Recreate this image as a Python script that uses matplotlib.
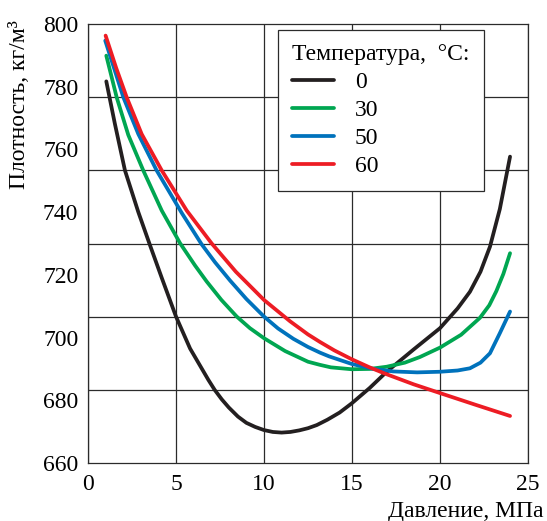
#!/usr/bin/env python3

import numpy as np
import matplotlib.pyplot as plt

# data (pressure in MPa, density in kg/m3)
p_0 = [1.04, 1.53, 2.10, 2.86, 3.52, 4.2, 5.0, 5.8, 6.84, 7.2, 7.6, 8.0, 8.52,
       9.0, 9.5, 10.0, 10.5, 11.0, 11.5, 12.0, 12.5, 13.0, 13.6, 14.3, 14.98,
       16.0, 16.97, 18.5, 20.0, 21.0, 21.7, 22.3, 22.84, 23.4, 23.98]
rho_0 = [781.7, 768.1, 753.3, 740.0, 729.5, 718.9, 706.7, 696.5, 686.5, 683.3,
         680.3, 677.7, 674.8, 672.8, 671.5, 670.5, 669.9, 669.7, 669.9, 670.4,
         671.1, 672.1, 673.8, 676.1, 679.0, 683.9, 689.1, 696.2, 703.0, 709.3,
         714.6, 721.0, 729.0, 741.0, 757.7]

p_30 = [1.04, 1.63, 2.29, 3.14, 4.19, 5.23, 6.08, 6.74, 7.58, 8.45, 9.2, 10.0,
        11.2, 12.5, 13.18, 13.8, 14.98, 16.0, 16.97, 18.0, 18.86, 20.0, 21.2,
        22.27, 22.8, 23.2, 23.6, 23.98]
rho_30 = [789.9, 776.6, 764.6, 753.3, 740.5, 730.1, 723.0, 717.9, 712.0, 706.7,
          703.0, 699.8, 695.7, 692.3, 691.3, 690.5, 689.9, 690.0, 690.7, 692.0,
          693.8, 696.8, 700.9, 706.3, 710.3, 714.8, 720.3, 726.9]

p_50 = [0.98, 2.01, 2.86, 3.9, 5.32, 6.45, 7.22, 8.07, 9.0, 10.0, 10.8, 11.67,
        12.5, 13.18, 13.7, 14.98, 16.2, 17.35, 18.7, 20.0, 21.0, 21.7, 22.3,
        22.84, 23.4, 23.98]
rho_50 = [794.7, 776.6, 764.9, 753.3, 739.8, 729.8, 724.0, 718.2, 712.3, 706.7,
          702.9, 699.6, 697.0, 695.2, 694.0, 691.6, 690.0, 689.2, 688.9, 689.1,
          689.5, 690.2, 692.0, 695.0, 701.4, 708.3]

p_60 = [1.0, 1.6, 2.2, 3.05, 4.19, 5.61, 7.03, 8.4, 10.0, 11.48, 12.5, 13.18,
        14.0, 14.98, 16.0, 16.97, 18.5, 20.0, 22.0, 23.98]
rho_60 = [796.3, 786.0, 776.6, 764.9, 753.3, 740.5, 730.0, 721.0, 712.0, 705.2,
          701.0, 698.6, 695.9, 693.1, 690.5, 688.3, 685.1, 682.3, 678.6, 675.0]

temps = ["0", "30", "50", "60"]
colors = ["#231f20", "#00a651", "#0072bc", "#ed1c24"]

x_ticks = [0, 5, 10, 15, 20, 25]
y_ticks = [660, 680, 700, 720, 740, 760, 780, 800]

plt.rcParams['font.family'] = ['Liberation Serif', 'DejaVu Serif']
plt.rcParams['font.size'] = 17

fig = plt.figure(figsize=(5.47, 5.21), dpi=100)
ax = fig.add_axes([88 / 547, 1 - 463 / 521, 440 / 547, 439 / 521])

series = [(p_0, rho_0), (p_30, rho_30), (p_50, rho_50), (p_60, rho_60)]
for (p, rho), t, c in zip(series, temps, colors):
  ax.plot(p, rho, color=c, lw=2.7, label=t, solid_capstyle='round',
          solid_joinstyle='round', zorder=3)

ax.set_xlim(0, 25)
ax.set_ylim(660, 800)
ax.set_xticks(x_ticks)
ax.set_yticks(y_ticks)

# the horizontal grid in the original splits the height into 6 equal parts,
# it does not follow the labels
ax.set_yticks(np.linspace(660, 800, 7), minor=True)
ax.xaxis.grid(True, which='major', color='#2b2b2b', lw=0.9)
ax.yaxis.grid(True, which='minor', color='#2b2b2b', lw=0.9)
ax.yaxis.grid(False, which='major')
ax.tick_params(which='both', length=0)
ax.tick_params(axis='x', pad=8)
ax.tick_params(axis='y', pad=7)
for s in ax.spines.values():
  s.set_color('#2b2b2b')
  s.set_linewidth(0.9)

fig.text(20 / 547, 1 - 105 / 521, "Плотность, кг/м³", rotation=90,
         ha='center', va='center')
fig.text(543 / 547, 1 - 512 / 521, "Давление, МПа", ha='right', va='center')

leg = ax.legend(title="Температура,  °C:", loc='upper right',
                bbox_to_anchor=(0.9, 0.986), borderaxespad=0, fancybox=False,
                edgecolor='#2b2b2b', framealpha=1, handlelength=1.75,
                handletextpad=0.9, labelspacing=0.27, borderpad=0.6,
                alignment='left', fontsize=17, title_fontsize=17)
leg.get_frame().set_linewidth(0.9)
leg.set_zorder(5)

fig.savefig("out.png", dpi=100)
